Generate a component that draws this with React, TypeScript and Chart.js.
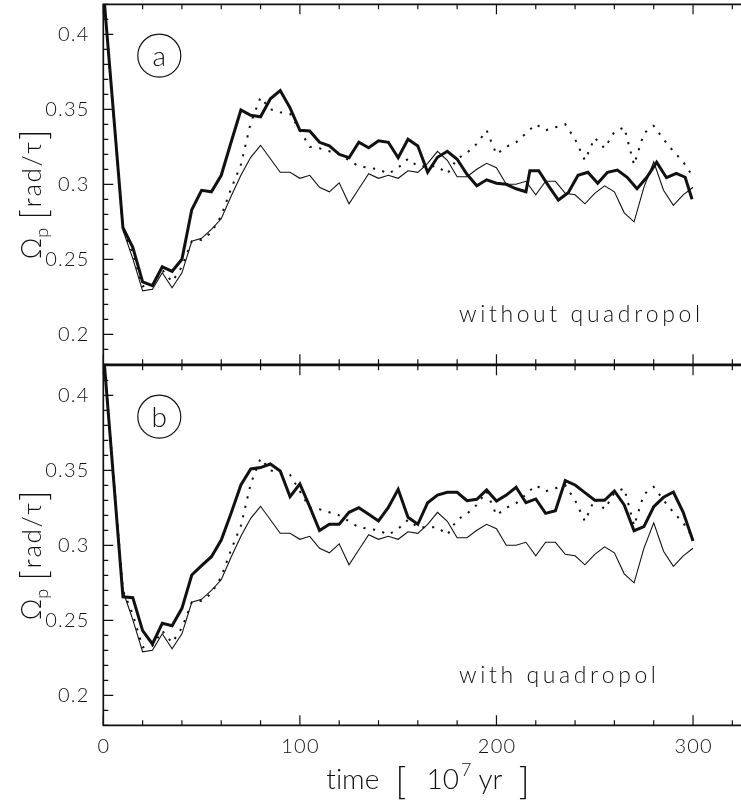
import { useEffect, useRef } from "react";
import { Chart, registerables } from "chart.js";

Chart.register(...registerables);

// Sampling times in units of 10^7 yr
const timeSteps = [
  0, 10, 15, 20, 25, 30, 35, 40, 45, 50, 55, 60, 65, 70, 75, 80, 85, 90, 95, 100,
  105, 110, 115, 120, 125, 130, 135, 140, 145, 150, 155, 160, 165, 170, 175, 180,
  185, 190, 195, 200, 205, 210, 215, 220, 225, 230, 235, 240, 245, 250, 255, 260,
  265, 270, 275, 280, 285, 290, 295, 300,
];

// Thin reference run (same in both panels)
const omegaReference = [
  0.43, 0.2695, 0.2505, 0.229, 0.23, 0.241, 0.231, 0.241, 0.262, 0.264, 0.27, 0.277,
  0.292, 0.306, 0.318, 0.326, 0.317, 0.308, 0.308, 0.304, 0.306, 0.298, 0.295, 0.301,
  0.287, 0.297, 0.307, 0.304, 0.306, 0.304, 0.309, 0.308, 0.314, 0.322, 0.316, 0.305,
  0.305, 0.31, 0.314, 0.311, 0.3, 0.3, 0.302, 0.293, 0.302, 0.302, 0.294, 0.293, 0.287,
  0.294, 0.299, 0.295, 0.281, 0.275, 0.298, 0.315, 0.296, 0.286, 0.293, 0.298,
];

// Dotted comparison run (same in both panels)
const omegaDotted = [
  0.43, 0.27, 0.254, 0.232, 0.233, 0.243, 0.235, 0.245, 0.262, 0.263, 0.268, 0.279,
  0.297, 0.313, 0.341, 0.358, 0.35, 0.348, 0.347, 0.336, 0.325, 0.324, 0.322, 0.32,
  0.316, 0.312, 0.311, 0.31, 0.307, 0.311, 0.317, 0.312, 0.312, 0.312, 0.307, 0.317,
  0.321, 0.327, 0.336, 0.32, 0.325, 0.328, 0.334, 0.34, 0.336, 0.338, 0.34, 0.33, 0.316,
  0.331, 0.324, 0.335, 0.338, 0.313, 0.334, 0.339, 0.33, 0.322, 0.315, 0.305,
];

// Bold run, panel (a): without quadropole
const timeBoldA = [
  0, 10, 15, 20, 25, 30, 35, 40, 45, 50, 55, 60, 65, 70, 75, 80, 85, 90, 95, 100,
  105, 110, 115, 120, 125, 130, 135, 140, 145, 150, 155, 160, 165, 170, 175, 180,
  185, 190, 195, 200, 205, 210, 215, 217, 221.5, 226.5, 231.5, 236.5, 241.5, 246.5,
  251.5, 256.5, 261.5, 266.5, 271.5, 276.5, 281.5, 286.5, 291.5, 296, 299.5,
];
const omegaBoldA = [
  0.43, 0.271, 0.258, 0.235, 0.2325, 0.245, 0.242, 0.25, 0.283, 0.296, 0.295, 0.306,
  0.328, 0.3495, 0.346, 0.345, 0.357, 0.3625, 0.351, 0.336, 0.3355, 0.328, 0.3257, 0.32,
  0.3177, 0.328, 0.3244, 0.329, 0.328, 0.3177, 0.33, 0.3255, 0.308, 0.318, 0.322, 0.3167,
  0.3067, 0.299, 0.303, 0.3007, 0.3, 0.297, 0.295, 0.309, 0.309, 0.299, 0.2895, 0.2944,
  0.306, 0.308, 0.3007, 0.308, 0.3095, 0.3047, 0.297, 0.3047, 0.3147, 0.3044, 0.3073,
  0.3047, 0.29,
];

// Bold run, panel (b): with quadropole
const omegaBoldB = [
  0.43, 0.2657, 0.2651, 0.2431, 0.2342, 0.248, 0.2464, 0.258, 0.2802, 0.2864, 0.2924,
  0.3035, 0.3213, 0.3402, 0.3509, 0.3518, 0.3542, 0.3495, 0.3324, 0.3409, 0.3258, 0.3098,
  0.314, 0.314, 0.322, 0.3251, 0.3207, 0.3162, 0.3253, 0.3373, 0.3187, 0.314, 0.3284,
  0.3335, 0.3353, 0.3353, 0.3297, 0.3307, 0.3369, 0.3295, 0.3335, 0.3387, 0.3284, 0.3309,
  0.3213, 0.323, 0.3431, 0.3402, 0.3351, 0.33, 0.33, 0.3362, 0.3269, 0.3097, 0.3124,
  0.3257, 0.332, 0.3355, 0.322, 0.3029,
];

// Axes
const yRange = [0.18, 0.42];
const xRange = [0, 324.4];
const yMajorTicks = [0.2, 0.25, 0.3, 0.35, 0.4];
const yTickLabels = ["0.2", "0.25", "0.3", "0.35", "0.4"];
const yMinorStep = 0.01;
const xMajorTicks = [0, 100, 200, 300];
const xTickLabels = ["0", "100", "200", "300"];
const xMinorStep = 20;

const INK = "#111";
const FONT = '"Lato", "DejaVu Sans", sans-serif';

const toPoints = (xs: number[], ys: number[]) => xs.map((x, i) => ({ x, y: ys[i] }));

function stepTicks(lo: number, hi: number, step: number) {
  const out: number[] = [];
  const n = Math.floor((hi - lo) / step + 1e-6);
  const start = Math.ceil(lo / step - 1e-6) * step;
  for (let i = 0; i <= n; i++) {
    const v = +(start + i * step).toFixed(6);
    if (v <= hi + 1e-9) out.push(v);
  }
  return out;
}

function font(size: number, weight = 300) {
  return `${weight} ${size}px ${FONT}`;
}

// Draws text character by character with extra spacing; returns drawn width
function spacedWidth(ctx: CanvasRenderingContext2D, text: string, gap: number) {
  const chars = Array.from(text);
  return chars.reduce((s, c) => s + ctx.measureText(c).width, 0) + gap * (chars.length - 1);
}
function drawSpaced(
  ctx: CanvasRenderingContext2D,
  text: string,
  x: number,
  y: number,
  gap: number,
  align: "left" | "center" | "right" = "left"
) {
  const w = spacedWidth(ctx, text, gap);
  let cx = align === "center" ? x - w / 2 : align === "right" ? x - w : x;
  const prev = ctx.textAlign;
  ctx.textAlign = "left";
  for (const c of Array.from(text)) {
    ctx.fillText(c, cx, y);
    cx += ctx.measureText(c).width + gap;
  }
  ctx.textAlign = prev;
  return w;
}

type Piece = { t: string; size: number; dy: number; after: number; gap?: number };

function drawPieces(ctx: CanvasRenderingContext2D, pieces: Piece[], cx: number, baseY: number) {
  let total = 0;
  pieces.forEach((p, i) => {
    ctx.font = font(p.size);
    total += spacedWidth(ctx, p.t, p.gap ?? 0) + (i < pieces.length - 1 ? p.after : 0);
  });
  let x = cx - total / 2;
  ctx.textBaseline = "alphabetic";
  pieces.forEach((p) => {
    ctx.font = font(p.size);
    x += drawSpaced(ctx, p.t, x, baseY + p.dy, p.gap ?? 0) + p.after;
  });
}

type Decor = { letter: string; note: string; xLabels: boolean };

function makeDecor(d: Decor) {
  return {
    id: "panelDecor",
    afterDraw(chart: Chart) {
      const { ctx, chartArea: ca } = chart;
      const xs = chart.scales.x;
      const ys = chart.scales.y;
      ctx.save();
      ctx.strokeStyle = INK;
      ctx.fillStyle = INK;

      // frame: top, left, bottom
      ctx.lineWidth = 1.7;
      ctx.beginPath();
      ctx.moveTo(ca.right, ca.top);
      ctx.lineTo(ca.left, ca.top);
      ctx.lineTo(ca.left, ca.bottom);
      ctx.lineTo(ca.right, ca.bottom);
      ctx.stroke();

      // inward tick marks
      ctx.lineWidth = 1.2;
      ctx.beginPath();
      stepTicks(yRange[0], yRange[1], yMinorStep).forEach((v) => {
        const major = yMajorTicks.some((m) => Math.abs(m - v) < 1e-6);
        const p = ys.getPixelForValue(v);
        ctx.moveTo(ca.left, p);
        ctx.lineTo(ca.left + (major ? 10 : 5), p);
      });
      stepTicks(xRange[0], xRange[1], xMinorStep).forEach((v) => {
        const major = xMajorTicks.some((m) => Math.abs(m - v) < 1e-6);
        const p = xs.getPixelForValue(v);
        const len = major ? 10 : 5;
        ctx.moveTo(p, ca.top);
        ctx.lineTo(p, ca.top + len);
        ctx.moveTo(p, ca.bottom);
        ctx.lineTo(p, ca.bottom - len);
      });
      ctx.stroke();

      // y tick labels
      ctx.font = font(20);
      ctx.textBaseline = "middle";
      yMajorTicks.forEach((v, i) => {
        drawSpaced(ctx, yTickLabels[i], ca.left - 15, ys.getPixelForValue(v), 1.2, "right");
      });

      // x tick labels and title (bottom panel only)
      if (d.xLabels) {
        ctx.font = font(20);
        ctx.textBaseline = "middle";
        xMajorTicks.forEach((v, i) => {
          drawSpaced(ctx, xTickLabels[i], xs.getPixelForValue(v), ca.bottom + 21, 1.2, "center");
        });
        drawPieces(
          ctx,
          [
            { t: "time", size: 28, dy: 0, after: 16 },
            { t: "[", size: 38, dy: 5, after: 20 },
            { t: "10", size: 28, dy: 0, after: 2 },
            { t: "7", size: 18, dy: -13, after: 7 },
            { t: "yr", size: 28, dy: 0, after: 16 },
            { t: "]", size: 38, dy: 5, after: 0 },
          ],
          428,
          ca.bottom + 64
        );
      }

      // y axis title, rotated
      ctx.save();
      ctx.translate(41, ca.top + 190);
      ctx.rotate(-Math.PI / 2);
      drawPieces(
        ctx,
        [
          { t: "Ω", size: 27, dy: 0, after: 0 },
          { t: "p", size: 18, dy: 7, after: 8 },
          { t: "[", size: 36, dy: 5, after: 2 },
          { t: "rad/τ", size: 26, dy: 0, after: 2, gap: 1.5 },
          { t: "]", size: 36, dy: 5, after: 0 },
        ],
        0,
        0
      );
      ctx.restore();

      // circled panel letter
      const cx = ca.left + 56;
      const cy = ca.top + 51.4;
      ctx.lineWidth = 1.2;
      ctx.beginPath();
      ctx.arc(cx, cy, 21.5, 0, Math.PI * 2);
      ctx.stroke();
      ctx.font = font(28);
      ctx.textAlign = "center";
      ctx.textBaseline = "middle";
      ctx.fillText(d.letter, cx, cy + 1);

      // run annotation
      ctx.font = font(23);
      ctx.textBaseline = "alphabetic";
      drawSpaced(ctx, d.note, 459, ca.top + 317.4, 3.6, "left");

      ctx.restore();
    },
  };
}

function buildChart(
  canvas: HTMLCanvasElement,
  boldTimes: number[],
  boldValues: number[],
  decor: Decor,
  bottomPad: number
) {
  return new Chart(canvas, {
    type: "line",
    data: {
      datasets: [
        {
          data: toPoints(timeSteps, omegaReference),
          borderColor: INK,
          borderWidth: 1.1,
          pointRadius: 0,
          tension: 0,
        },
        {
          data: toPoints(timeSteps, omegaDotted),
          borderColor: INK,
          borderWidth: 2,
          borderDash: [2.2, 7.5],
          pointRadius: 0,
          tension: 0,
        },
        {
          data: toPoints(boldTimes, boldValues),
          borderColor: INK,
          borderWidth: 3,
          pointRadius: 0,
          tension: 0,
        },
      ],
    },
    options: {
      animation: false,
      responsive: false,
      devicePixelRatio: 1,
      events: [],
      layout: { padding: { left: 103.3, top: 4.3, right: 0, bottom: bottomPad } },
      scales: {
        x: { type: "linear", min: xRange[0], max: xRange[1], display: false },
        y: { type: "linear", min: yRange[0], max: yRange[1], display: false },
      },
      plugins: { legend: { display: false }, tooltip: { enabled: false } },
    },
    plugins: [makeDecor(decor)],
  });
}

export default function App() {
  const refA = useRef<HTMLCanvasElement>(null);
  const refB = useRef<HTMLCanvasElement>(null);

  useEffect(() => {
    const a = buildChart(
      refA.current!,
      timeBoldA,
      omegaBoldA,
      { letter: "a", note: "without quadropol", xLabels: false },
      5.7
    );
    const b = buildChart(
      refB.current!,
      timeSteps,
      omegaBoldB,
      { letter: "b", note: "with quadropol", xLabels: true },
      79.7
    );
    return () => {
      a.destroy();
      b.destroy();
    };
  }, []);

  return (
    <div style={{ position: "fixed", left: 0, top: 0, width: 741, height: 805, background: "#fff" }}>
      <canvas ref={refA} width={741} height={370} style={{ position: "absolute", left: 0, top: 0 }} />
      <canvas ref={refB} width={741} height={444} style={{ position: "absolute", left: 0, top: 361 }} />
    </div>
  );
}
